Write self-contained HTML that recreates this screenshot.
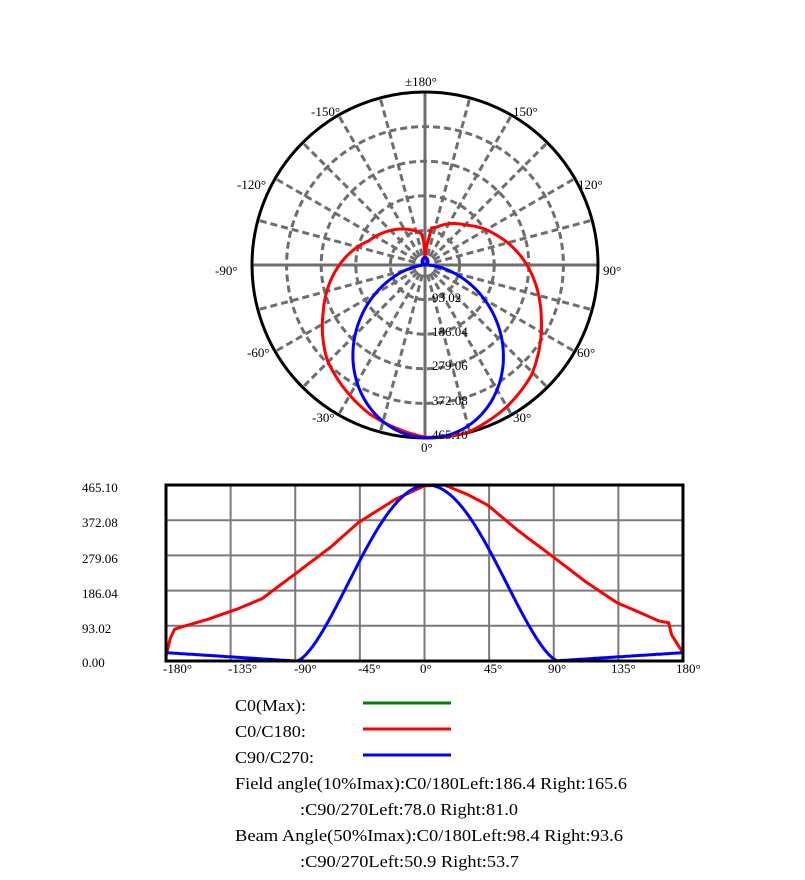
<!DOCTYPE html>
<html><head><meta charset="utf-8"><style>
body{margin:0;background:#fff;width:805px;height:880px;overflow:hidden}
svg{display:block}
text{font-family:"Liberation Serif",serif;fill:#000}
</style></head><body>
<svg id="s" width="805" height="880" viewBox="0 0 805 880" xmlns="http://www.w3.org/2000/svg">
<g id="polar"></g>
<g id="lin"></g>
<g font-size="13">
<text x="405" y="86">±180°</text>
<text x="311" y="116">-150°</text>
<text x="513" y="116">150°</text>
<text x="237" y="189">-120°</text>
<text x="578" y="189">120°</text>
<text x="215" y="275">-90°</text>
<text x="603" y="275">90°</text>
<text x="247" y="357">-60°</text>
<text x="577" y="357">60°</text>
<text x="312" y="422">-30°</text>
<text x="513" y="422">30°</text>
<text x="421" y="452">0°</text>
<text x="432" y="302">93.02</text>
<text x="432" y="336">186.04</text>
<text x="432" y="370">279.06</text>
<text x="432" y="405">372.08</text>
<text x="432" y="439">465.10</text>
<text x="82" y="492">465.10</text>
<text x="82" y="527">372.08</text>
<text x="82" y="563">279.06</text>
<text x="82" y="598">186.04</text>
<text x="82" y="633">93.02</text>
<text x="82" y="667">0.00</text>
<text x="163" y="673">-180°</text>
<text x="228" y="673">-135°</text>
<text x="294" y="673">-90°</text>
<text x="358" y="673">-45°</text>
<text x="420" y="673">0°</text>
<text x="484" y="673">45°</text>
<text x="548" y="673">90°</text>
<text x="611" y="673">135°</text>
<text x="676" y="673">180°</text>
</g>
<g font-size="17">
<text x="235" y="711" textLength="71" lengthAdjust="spacingAndGlyphs">C0(Max):</text>
<text x="235" y="737" textLength="71" lengthAdjust="spacingAndGlyphs">C0/C180:</text>
<text x="235" y="763" textLength="79" lengthAdjust="spacingAndGlyphs">C90/C270:</text>
<text x="235" y="789" textLength="392" lengthAdjust="spacingAndGlyphs">Field angle(10%Imax):C0/180Left:186.4 Right:165.6</text>
<text x="300" y="815" textLength="218" lengthAdjust="spacingAndGlyphs">:C90/270Left:78.0 Right:81.0</text>
<text x="235" y="841" textLength="388" lengthAdjust="spacingAndGlyphs">Beam Angle(50%Imax):C0/180Left:98.4 Right:93.6</text>
<text x="300" y="867" textLength="219" lengthAdjust="spacingAndGlyphs">:C90/270Left:50.9 Right:53.7</text>
</g>
<line x1="363" y1="703" x2="451" y2="703" stroke="#008000" stroke-width="3"/>
<line x1="363" y1="729" x2="451" y2="729" stroke="#f00" stroke-width="3"/>
<line x1="363" y1="755" x2="451" y2="755" stroke="#00f" stroke-width="3"/>
</svg>
<script>
var NS="http://www.w3.org/2000/svg";
function el(p,t,a){var e=document.createElementNS(NS,t);for(var k in a)e.setAttribute(k,a[k]);p.appendChild(e);return e;}
var redPts=[[-180,13],[-177,60],[-174,84],[-171,88],[-151,110],[-130,138],[-113,165],[-88,236],[-65,302],[-46,366],[-20,428],[0,463],[14,465],[30,440],[44,412],[65,345],[90,274],[112,210],[134,154],[150,128],[163,106],[170,101],[172,70],[176,45],[180,22]];
function red(a){for(var i=0;i<redPts.length-1;i++){var p=redPts[i],q=redPts[i+1];if(a>=p[0]&&a<=q[0]){return p[1]+(q[1]-p[1])*(a-p[0])/(q[0]-p[0]);}}return 20;}
function blue(a){var b=(a-2)*90/91;if(Math.abs(b)<90){return 465*Math.pow(Math.cos(b*Math.PI/180),1.5);}var d=180-Math.abs(a);return Math.max(0,22*(1-d/90));}
var P=document.getElementById("polar"),cx=425,cy=265,R=173;
for(var k=1;k<=4;k++)el(P,"circle",{cx:cx,cy:cy,r:R*k/5,fill:"none",stroke:"#6e6e6e","stroke-width":3,"stroke-dasharray":"7,4"});
for(var a=0;a<360;a+=15){var t=a*Math.PI/180,r0=(a%90==0)?0:10;el(P,"line",{x1:cx+r0*Math.sin(t),y1:cy+r0*Math.cos(t),x2:cx+R*Math.sin(t),y2:cy+R*Math.cos(t),stroke:"#6e6e6e","stroke-width":3,"stroke-dasharray":a%90==0?"":"7,4"});}
el(P,"circle",{cx:cx,cy:cy,r:R,fill:"none",stroke:"#000","stroke-width":3});
function ppath(f){var d="";for(var a=-180;a<=180;a+=1){var v=f(a)/465.1*R,t=a*Math.PI/180;d+=(a==-180?"M":"L")+(cx+v*Math.sin(t)).toFixed(1)+","+(cy+v*Math.cos(t)).toFixed(1);}return d;}
el(P,"path",{d:ppath(red),fill:"none",stroke:"#f00","stroke-width":3});
el(P,"path",{d:ppath(blue),fill:"none",stroke:"#00f","stroke-width":3});
var L=document.getElementById("lin"),x0=166,x1=683,y0=485,y1=661;
for(var i=1;i<5;i++){var y=y0+(y1-y0)*i/5;el(L,"line",{x1:x0,y1:y,x2:x1,y2:y,stroke:"#7a7a7a","stroke-width":2});}
for(var i=1;i<8;i++){var x=x0+(x1-x0)*i/8;el(L,"line",{x1:x,y1:y0,x2:x,y2:y1,stroke:"#7a7a7a","stroke-width":2});}
function lpath(f){var d="";for(var a=-180;a<=180;a+=1){var x=x0+(a+180)/360*(x1-x0),y=y1-f(a)/465.1*(y1-y0);d+=(a==-180?"M":"L")+x.toFixed(1)+","+y.toFixed(1);}return d;}
el(L,"path",{d:lpath(red),fill:"none",stroke:"#f00","stroke-width":3});
el(L,"path",{d:lpath(blue),fill:"none",stroke:"#00f","stroke-width":3});
el(L,"rect",{x:x0,y:y0,width:x1-x0,height:y1-y0,fill:"none",stroke:"#000","stroke-width":3});
</script>
</body></html>
